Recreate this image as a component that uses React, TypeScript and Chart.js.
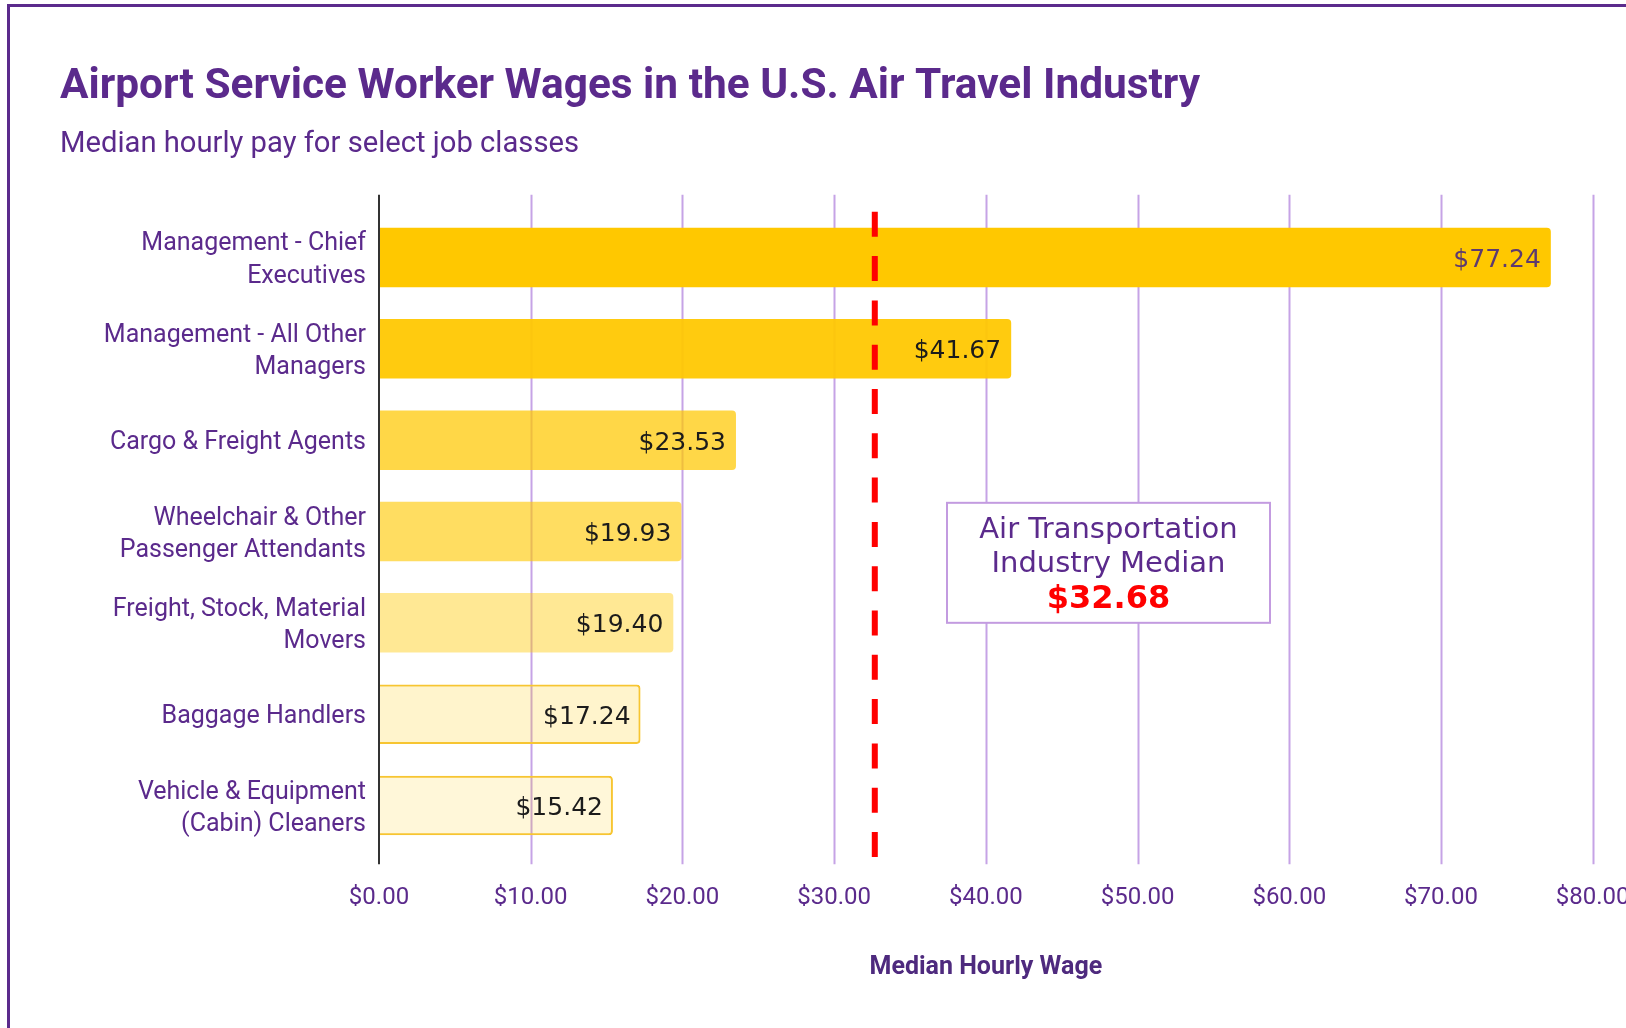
import React, { useEffect, useRef } from "react";
import { Chart, registerables } from "chart.js";

Chart.register(...registerables);

// ---- data ----
const categories: string[][] = [
  ["Management - Chief", "Executives"],
  ["Management - All Other", "Managers"],
  ["Cargo & Freight Agents"],
  ["Wheelchair & Other", "Passenger Attendants"],
  ["Freight, Stock, Material", "Movers"],
  ["Baggage Handlers"],
  ["Vehicle & Equipment", "(Cabin) Cleaners"],
];
const wages = [77.24, 41.67, 23.53, 19.93, 19.4, 17.24, 15.42];
const industryMedian = 32.68;
const xTickValues = [0, 10, 20, 30, 40, 50, 60, 70, 80];
const titleText = "Airport Service Worker Wages in the U.S. Air Travel Industry";
const subtitleText = "Median hourly pay for select job classes";
const xAxisTitle = "Median Hourly Wage";
const boxLines = ["Air Transportation", "Industry Median"];

// ---- styles ----
const PURPLE = "#5b2a8c";
const barFills = [
  "rgba(255,200,0,1)",
  "rgba(255,200,0,0.94)",
  "rgba(255,200,0,0.72)",
  "rgba(255,200,0,0.62)",
  "rgba(255,200,0,0.42)",
  "rgba(255,200,0,0.2)",
  "rgba(255,200,0,0.15)",
];
const barBorderWidths = [0, 0, 0, 0, 0, 2, 2];
const labelColors = ["#5d3a70", "#1b1b1b", "#1b1b1b", "#1b1b1b", "#1b1b1b", "#1b1b1b", "#1b1b1b"];
const money = (v: number) => `$${v.toFixed(2)}`;

const decorPlugin = {
  id: "decor",
  beforeDatasetsDraw(chart: any) {
    const { ctx, chartArea, scales } = chart;
    const x = scales.x;
    const top = chartArea.top - 17;
    const bottom = chartArea.bottom + 13;
    ctx.save();
    ctx.lineWidth = 2;
    ctx.strokeStyle = "#c6a3e6";
    xTickValues.forEach((v) => {
      if (v === 0) return;
      const px = Math.round(x.getPixelForValue(v)) + 0.5;
      ctx.beginPath();
      ctx.moveTo(px, top);
      ctx.lineTo(px, bottom);
      ctx.stroke();
    });
    ctx.restore();
  },
  afterDatasetsDraw(chart: any) {
    const { ctx, chartArea, scales } = chart;
    const x = scales.x;
    ctx.save();
    // axis line
    const zx = Math.round(x.getPixelForValue(0));
    ctx.strokeStyle = "#333333";
    ctx.lineWidth = 2;
    ctx.beginPath();
    ctx.moveTo(zx, chartArea.top - 17);
    ctx.lineTo(zx, chartArea.bottom + 13);
    ctx.stroke();

    // data labels
    const meta = chart.getDatasetMeta(0);
    ctx.font = '25px "DejaVu Sans", Verdana, sans-serif';
    ctx.textAlign = "right";
    ctx.textBaseline = "middle";
    meta.data.forEach((bar: any, i: number) => {
      ctx.fillStyle = labelColors[i];
      ctx.fillText(money(wages[i]), bar.x - 10, bar.y + 3);
    });

    // median line
    const mx = x.getPixelForValue(industryMedian);
    ctx.strokeStyle = "#ff0000";
    ctx.lineWidth = 6;
    ctx.setLineDash([25, 19.3]);
    ctx.beginPath();
    ctx.moveTo(mx, chartArea.top);
    ctx.lineTo(mx, chartArea.bottom + 9);
    ctx.stroke();
    ctx.setLineDash([]);

    // annotation box
    const bx = chartArea.left + 568;
    const by = chartArea.top + 291;
    const bw = 323;
    const bh = 120;
    ctx.fillStyle = "#ffffff";
    ctx.fillRect(bx, by, bw, bh);
    ctx.strokeStyle = "#c39be0";
    ctx.lineWidth = 2;
    ctx.strokeRect(bx, by, bw, bh);
    const cx = bx + bw / 2;
    ctx.textAlign = "center";
    ctx.textBaseline = "middle";
    ctx.fillStyle = PURPLE;
    ctx.font = '29px "DejaVu Sans", Verdana, sans-serif';
    ctx.fillText(boxLines[0], cx, by + 28);
    ctx.fillText(boxLines[1], cx, by + 62);
    ctx.fillStyle = "#ff0000";
    ctx.font = 'bold 32px "DejaVu Sans", Verdana, sans-serif';
    ctx.fillText(money(industryMedian), cx, by + 97);
    ctx.restore();
  },
};

export default function App() {
  const ref = useRef<HTMLCanvasElement | null>(null);

  useEffect(() => {
    if (!ref.current) return;
    Chart.defaults.font.family = "Roboto";
    const chart = new Chart(ref.current, {
      type: "bar",
      data: {
        labels: categories,
        datasets: [
          {
            data: wages,
            backgroundColor: barFills,
            borderColor: "#f7c531",
            borderWidth: barBorderWidths,
            borderRadius: 4,
            borderSkipped: "start",
            categoryPercentage: 1,
            barPercentage: 0.651,
          },
        ],
      },
      options: {
        indexAxis: "y",
        responsive: false,
        animation: false,
        devicePixelRatio: 1,
        layout: { padding: { left: 60, right: 107.3, top: 0, bottom: 0 } },
        plugins: {
          legend: { display: false },
          tooltip: { enabled: false },
          title: {
            display: true,
            text: titleText,
            align: "start",
            color: PURPLE,
            font: { family: "Roboto", size: 42.4, weight: "bold", lineHeight: 1.2 },
            padding: { top: 61.8, bottom: 0 },
          },
          subtitle: {
            display: true,
            text: subtitleText,
            align: "start",
            color: PURPLE,
            font: { family: "Roboto", size: 29.2, weight: "normal", lineHeight: 1.2 },
            padding: { top: 14.8, bottom: 49.3 },
          },
        },
        scales: {
          x: {
            type: "linear",
            min: 0,
            max: 80,
            afterBuildTicks: (scale: any) => {
              scale.ticks = xTickValues.map((v) => ({ value: v }));
            },
            afterFit: (scale: any) => {
              scale.height = 176.8;
            },
            grid: { display: false, drawTicks: false },
            border: { display: false },
            ticks: {
              padding: 32.4,
              color: PURPLE,
              font: { family: "Roboto", size: 24, lineHeight: 1.2 },
              callback: (v: any) => money(Number(v)),
            },
            title: {
              display: true,
              text: xAxisTitle,
              color: "#4e2a7e",
              font: { family: "Roboto", size: 25, weight: "bold", lineHeight: 1.2 },
              padding: { top: 0, bottom: 45 },
            },
          },
          y: {
            type: "category",
            afterFit: (scale: any) => {
              scale.width = 319;
            },
            grid: { display: false, drawTicks: false },
            border: { display: false },
            ticks: {
              padding: 13,
              labelOffset: 3,
              color: PURPLE,
              font: { family: "Roboto", size: 25, lineHeight: 1.3 },
            },
          },
        },
      },
      plugins: [decorPlugin],
    } as any);
    return () => chart.destroy();
  }, []);

  return (
    <div
      style={{
        position: "fixed",
        left: 0,
        top: 0,
        width: 1626,
        height: 1028,
        overflow: "hidden",
        background: "#ffffff",
      }}
    >
      <div
        style={{
          position: "absolute",
          left: 7,
          top: 4,
          width: 1700,
          height: 1100,
          border: "3px solid #5b2a8c",
          boxSizing: "border-box",
        }}
      />
      <canvas
        ref={ref}
        width={1700}
        height={1028}
        style={{ position: "absolute", left: 0, top: 0, width: 1700, height: 1028 }}
      />
    </div>
  );
}
